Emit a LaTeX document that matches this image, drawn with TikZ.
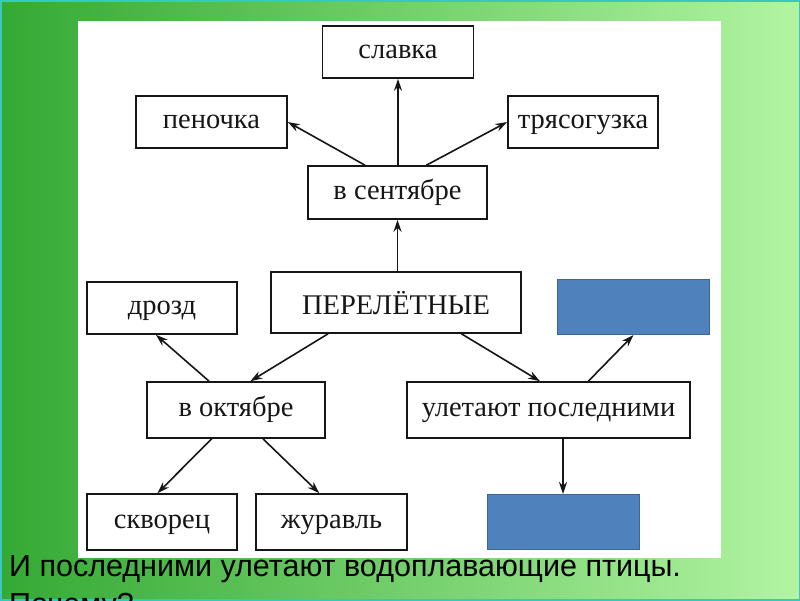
\documentclass[tikz,border=0pt]{standalone}
\usepackage{fontspec}
\setmainfont{Liberation Serif}
\newfontfamily\brdsans{Liberation Sans}
\usepackage{tikz}
\usetikzlibrary{arrows.meta}
\usetikzlibrary{calc}
\definecolor{brdink}{HTML}{161616}
\definecolor{brdblue}{HTML}{4F81BD}
\definecolor{brdblueline}{HTML}{3A669A}
\definecolor{brdgreenleft}{HTML}{34A934}
\definecolor{brdgreenright}{HTML}{B2F4A2}
\definecolor{brdframe}{HTML}{38C6C6}
\tikzset{
  brdbox/.style={
    draw=brdink, fill=white, line width=1.6pt, inner sep=0pt,
    minimum height=52pt, text=brdink,
    font=\fontsize{28.5}{31}\selectfont},
  brdblank/.style={
    draw=brdblueline, fill=brdblue, line width=1pt,
    minimum width=152pt, minimum height=55pt},
  brdarrow/.style={-{Stealth[length=12pt, width=8pt]}, draw=brdink,
    line width=1.6pt},
  brdnote/.style={anchor=base west, text=black, align=left, inner sep=0pt,
    font=\brdsans\fontsize{30.5}{38}\selectfont},
}

\begin{document}
\begin{tikzpicture}[x=1pt, y=-1pt]

% Slide background, white panel.
\useasboundingbox (0, 0) rectangle (800, 600);
\clip (0, 0) rectangle (800, 600);
\shade[left color=brdgreenleft, right color=brdgreenright]
  (0, 0) rectangle (800, 600);
\draw[brdframe, line width=3pt] (0, 0) rectangle (800, 600);
\fill[white] (78, 21) rectangle (721, 558);

% Boxes of the scheme (name/x/y/width/height/text height/depth/text).
\foreach \name/\x/\y/\w/\h/\th/\td/\txt in {%
    slavka/398/52/151/52/17/4/{славка},
    penochka/211.5/122/151/52/17/4/{пеночка},
    tryas/583/122/150/52/17/4/{трясогузка},
    sent/397.5/192.5/179/53/17/4/{в сентябре},
    drozd/162/308/150/52/17/4/{дрозд},
    perel/396/302.5/250/61/24/0/{ПЕРЕЛЁТНЫЕ},
    okt/236/410/178/56/17/4/{в октябре},
    posl/548.5/410/283/56/17/4/{улетают последними},
    skvor/162/522/150/56/17/4/{скворец},
    zhur/331.5/522/151/56/17/4/{журавль}} {
  \node[brdbox, minimum width=\w pt, minimum height=\h pt,
        text height=\th pt, text depth=\td pt]
    (\name) at (\x, \y) {\txt};
}

% Two empty (blue) boxes.
\node[brdblank] (blanktop) at (633.5, 307) {};
\node[brdblank] (blankbot) at (563, 522) {};

% Arrows.
\draw[brdarrow] (sent.north -| slavka.south) -- (slavka.south);
\draw[brdarrow] ($(sent.north west)!0.32!(sent.north east)$)
  -- (penochka.east);
\draw[brdarrow] ($(sent.north west)!0.66!(sent.north east)$)
  -- (tryas.west);
\draw[brdarrow] (perel.north -| sent.south) -- (sent.south);
\draw[brdarrow] ($(perel.south west)!0.23!(perel.south east)$)
  -- ($(okt.north west)!0.58!(okt.north east)$);
\draw[brdarrow] ($(perel.south west)!0.76!(perel.south east)$)
  -- ($(posl.north west)!0.47!(posl.north east)$);
\draw[brdarrow] ($(okt.north west)!0.35!(okt.north east)$)
  -- ($(drozd.south west)!0.46!(drozd.south east)$);
\draw[brdarrow] ($(posl.north west)!0.64!(posl.north east)$)
  -- (blanktop.south);
\draw[brdarrow] ($(okt.south west)!0.365!(okt.south east)$)
  -- ($(skvor.north west)!0.47!(skvor.north east)$);
\draw[brdarrow] ($(okt.south west)!0.65!(okt.south east)$)
  -- ($(zhur.north west)!0.42!(zhur.north east)$);
\draw[brdarrow] (posl.south -| blankbot.north) -- (blankbot.north);

% Question under the panel.
\node[brdnote] (question) at (9, 614)
  {И последними улетают водоплавающие птицы.\\Почему?};

\end{tikzpicture}
\end{document}
